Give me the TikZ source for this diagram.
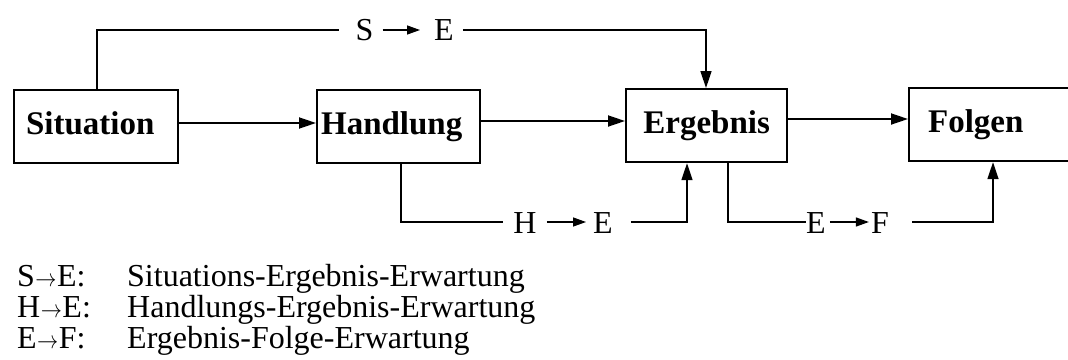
\documentclass[tikz,border=0pt]{standalone}
\usepackage{fontspec}
\setmainfont{Liberation Serif}
\usetikzlibrary{arrows.meta}

\tikzset{
  stage/.style={draw, line width=2.2pt, anchor=north west, inner ysep=0pt,
    minimum height=73pt, text height=24pt, text depth=8pt,
    font=\bfseries\fontsize{33}{36}\selectfont},
  flow/.style={line width=1.8pt, -{Triangle[length=17pt,width=11pt]}},
  route/.style={line width=1.6pt},
  lab/.style={anchor=base, inner sep=0pt, font=\fontsize{32}{34}\selectfont},
  labarrow/.style={line width=1.3pt, -{Triangle[length=13pt,width=9pt]}},
  legend/.style={anchor=base west, inner sep=0pt, font=\fontsize{32}{32}\selectfont}
}
\newcommand{\legarrow}{\kern0.5pt\scalebox{0.85}[1]{$\rightarrow$}\kern0.5pt}

\begin{document}
\begin{tikzpicture}[x=1pt,y=-1pt]
\useasboundingbox (0,0) rectangle (1068,359);

% the four stages
\node[stage, minimum width=164pt, text width=140pt, inner xsep=12pt, align=left] (sit) at (13,89) {Situation};
\node[stage, minimum width=163pt, text width=155pt, inner xsep=4pt, align=left] (hand) at (316,89) {Handlung};
\node[stage, minimum width=161pt, text width=141pt, inner xsep=10pt, align=center] (erg) at (625,88) {Ergebnis};
\node[stage, minimum width=220pt, text width=182pt, inner xsep=19pt, align=left] (folg) at (908,87) {Folgen};

% main chain
\draw[flow] (sit.east |- 0,123) -- (hand.west |- 0,123);
\draw[flow] (hand.east |- 0,121) -- (erg.west |- 0,121);
\draw[flow] (erg.east |- 0,119) -- (folg.west |- 0,119);

% S -> E (over the top)
\coordinate (tl) at (97,30);
\coordinate (tr) at (706,30);
\node[lab] (sS) at (364.5,40) {S};
\node[lab] (sE) at (444,40) {E};
\draw[route] (sit.north -| tl) -- (tl) -- ([xshift=-16pt]sS.west |- tl);
\draw[labarrow] ([xshift=9pt]sS.east |- tl) -- ([xshift=-14pt]sE.west |- tl);
\draw[route, -{Triangle[length=17pt,width=11pt]}] ([xshift=9pt]sE.east |- tl) -- (tr) -- (erg.north -| tr);

% H -> E (underneath)
\coordinate (hl) at (401,222);
\coordinate (hr) at (687,222);
\node[lab] (hH) at (525,233) {H};
\node[lab] (hE) at (603,233) {E};
\draw[route] (hand.south -| hl) -- (hl) -- ([xshift=-10pt]hH.west |- hl);
\draw[labarrow] ([xshift=10pt]hH.east |- hl) -- ([xshift=-7pt]hE.west |- hl);
\draw[route, -{Triangle[length=17pt,width=11pt]}] ([xshift=18pt]hE.east |- hl) -- (hr) -- (erg.south -| hr);

% E -> F (underneath)
\coordinate (fl) at (728,222);
\coordinate (fr) at (993,222);
\node[lab] (fE) at (816,233) {E};
\node[lab] (fF) at (880,233) {F};
\draw[route] (erg.south -| fl) -- (fl) -- (fE.west |- fl);
\draw[labarrow] ([xshift=4pt]fE.east |- fl) -- ([xshift=-2pt]fF.west |- fl);
\draw[route, -{Triangle[length=17pt,width=11pt]}] ([xshift=23pt]fF.east |- fl) -- (fr) -- (folg.south -| fr);

% legend
\node[legend] (k1) at (17,286) {S\legarrow E:};
\node[legend] (v1) at (127,286) {Situations-Ergebnis-Erwartung};
\node[legend] (k2) at (17,317) {H\legarrow E:};
\node[legend] (v2) at (127,317) {Handlungs-Ergebnis-Erwartung};
\node[legend] (k3) at (17,348) {E\legarrow F:};
\node[legend] (v3) at (127,348) {Ergebnis-Folge-Erwartung};
\end{tikzpicture}
\end{document}
